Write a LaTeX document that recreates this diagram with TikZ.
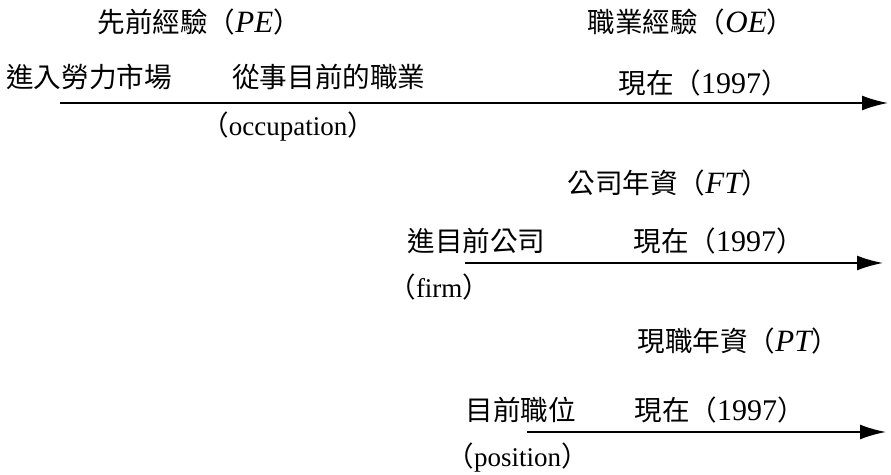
\documentclass[tikz,border=0pt]{standalone}
\usepackage{fontspec}
\setmainfont{Liberation Serif}
\newfontfamily\cjk{Noto Sans CJK TC}
\usetikzlibrary{arrows.meta,positioning}
\tikzset{
  lbl/.style={anchor=west,inner sep=0pt,font=\fontsize{13.8}{16}\selectfont},
  timeline/.style={line width=1pt,-{Latex[length=13pt,width=7.5pt]}}
}
\newcommand{\lp}{{\cjk （}}
\newcommand{\rp}{{\cjk ）}}
\newcommand{\en}[1]{{\fontsize{13.5}{16}\selectfont #1}}
\newcommand{\vr}[1]{{\fontsize{15.5}{16}\selectfont\itshape #1}}
\newcommand{\yr}{{\cjk 現在}\lp{\fontsize{15}{16}\selectfont 1997}\rp}

\begin{document}
\begin{tikzpicture}[x=0.5pt,y=-0.5pt]
\useasboundingbox (0,0) rectangle (891,475);
% top row: occupation
\node[lbl] (pe) at (97,22) {{\cjk 先前經驗}\lp\vr{PE}\rp};
\node[lbl] (oe) at (587,22) {{\cjk 職業經驗}\lp\vr{OE}\rp};
\node[lbl] (entry) at (6,77) {\cjk 進入勞力市場};
\node[lbl] (occ) at (232,77) {\cjk 從事目前的職業};
\node[lbl] (now1) at (618,83) {\yr};
\node[lbl] (occen) at (201,127) {\lp\en{occupation}\rp};
\coordinate (s1) at (60,103);
\coordinate (e1) at (888,103);
\draw[timeline] (s1) -- (e1);
% middle row: firm
\node[lbl] (ft) at (567,183) {{\cjk 公司年資}\lp\vr{FT}\rp};
\node[lbl] (firm) at (407,241) {\cjk 進目前公司};
\node[lbl] (now2) at (633,241) {\yr};
\node[lbl] (firmen) at (388,287) {\lp\en{firm}\rp};
\coordinate (s2) at (465,263);
\coordinate (e2) at (883,263);
\draw[timeline] (s2) -- (e2);
% bottom row: position
\node[lbl] (pt) at (637,341) {{\cjk 現職年資}\lp\vr{PT}\rp};
\node[lbl] (pos) at (465,410) {\cjk 目前職位};
\node[lbl] (now3) at (634,410) {\yr};
\node[lbl] (posen) at (446,458) {\lp\en{position}\rp};
\coordinate (s3) at (527,432);
\coordinate (e3) at (886,432);
\draw[timeline] (s3) -- (e3);
\end{tikzpicture}
\end{document}
